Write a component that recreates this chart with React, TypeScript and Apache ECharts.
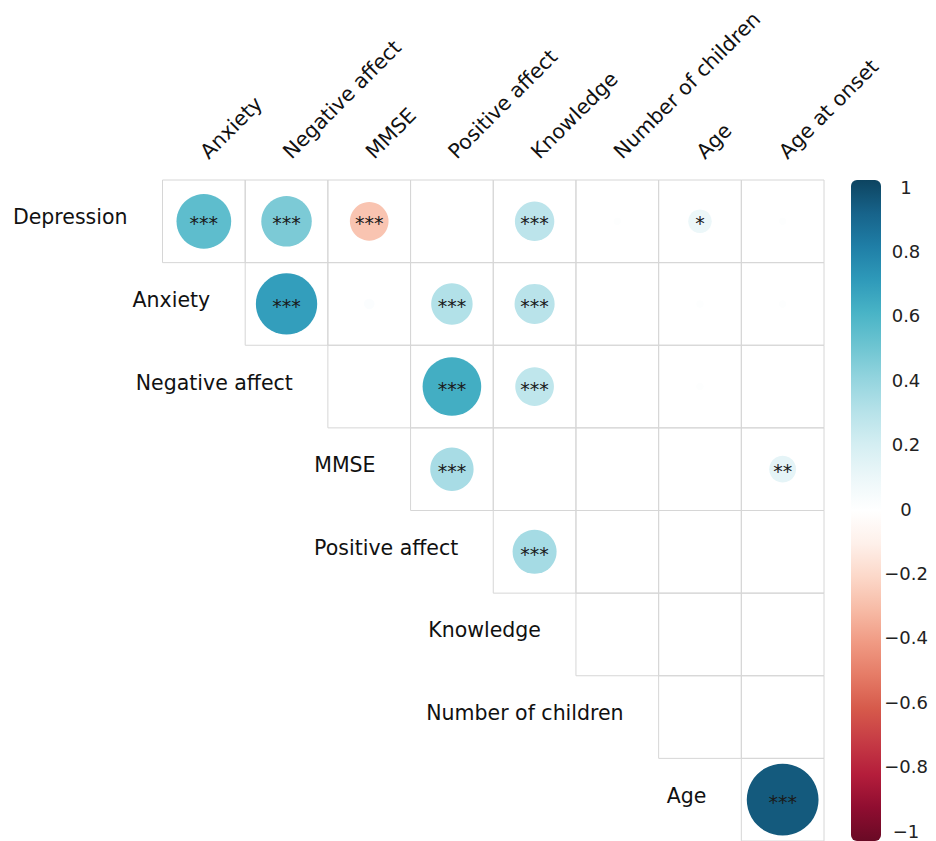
import { useEffect, useRef } from "react";
import * as echarts from "echarts";

const rowNames = [
  "Depression",
  "Anxiety",
  "Negative affect",
  "MMSE",
  "Positive affect",
  "Knowledge",
  "Number of children",
  "Age",
];
const colNames = [
  "Anxiety",
  "Negative affect",
  "MMSE",
  "Positive affect",
  "Knowledge",
  "Number of children",
  "Age",
  "Age at onset",
];
// correlation values (upper triangle, null = not drawn)
const corr: (number | null)[][] = [
  [0.54, 0.46, -0.27, 0.0, 0.28, 0.01, 0.1, 0.01],
  [null, 0.68, 0.02, 0.31, 0.29, 0.0, 0.01, 0.01],
  [null, null, 0.0, 0.62, 0.27, 0.0, 0.01, 0.0],
  [null, null, null, 0.34, 0.0, 0.0, 0.0, 0.13],
  [null, null, null, null, 0.35, 0.0, 0.0, 0.0],
  [null, null, null, null, null, 0.0, 0.0, 0.0],
  [null, null, null, null, null, null, 0.0, 0.0],
  [null, null, null, null, null, null, null, 0.93],
];
const sig: string[][] = [
  ["***", "***", "***", "", "***", "", "*", ""],
  ["", "***", "", "***", "***", "", "", ""],
  ["", "", "", "***", "***", "", "", ""],
  ["", "", "", "***", "", "", "", "**"],
  ["", "", "", "", "***", "", "", ""],
  ["", "", "", "", "", "", "", ""],
  ["", "", "", "", "", "", "", ""],
  ["", "", "", "", "", "", "", "***"],
];
// colour scale from -1 to 1
const colorStops = [
  "#690a25",
  "#8f0d30",
  "#b41d3b",
  "#c63b45",
  "#d65a4b",
  "#e57b66",
  "#f09a83",
  "#f7bba6",
  "#fcd8c9",
  "#fef0ea",
  "#ffffff",
  "#ecf7f9",
  "#d4eef2",
  "#b6e2e9",
  "#93d4de",
  "#6cc4d1",
  "#48b3c6",
  "#2e99b9",
  "#1f7ea6",
  "#17638a",
  "#0d4460",
];

const FONT = "DejaVu Sans";

export default function App() {
  const ref = useRef<HTMLDivElement>(null);
  useEffect(() => {
    const chart = echarts.init(ref.current!, null, { renderer: "svg" });
    const cellData: any[] = [];
    corr.forEach((row, i) =>
      row.forEach((v, j) => {
        if (v !== null) cellData.push([j, i, v, sig[i][j]]);
      })
    );
    const labelData = rowNames.map((n, i) => [i, i, n]);
    const n = colorStops.length - 1;
    const gradStops = colorStops
      .slice()
      .reverse()
      .map((c, k) => ({ offset: k / n, color: c }));

    chart.setOption({
      animation: false,
      visualMap: {
        show: false,
        type: "continuous",
        min: -1,
        max: 1,
        dimension: 2,
        seriesIndex: 1,
        inRange: { color: colorStops },
      },
      grid: [
        { left: 162.5, top: 180, width: 661.5, height: 661.5 },
        { left: 851, top: 187, width: 30, height: 644 },
      ],
      xAxis: [
        {
          type: "category",
          gridIndex: 0,
          data: colNames,
          position: "top",
          axisLine: { show: false },
          axisTick: { show: false },
          splitLine: { show: false },
          axisLabel: {
            rotate: -45,
            interval: 0,
            margin: 25,
            fontSize: 20.5,
            color: "#111",
            fontFamily: FONT,
          },
        },
        {
          type: "value",
          gridIndex: 1,
          min: 0,
          max: 1,
          show: false,
        },
      ],
      yAxis: [
        {
          type: "category",
          gridIndex: 0,
          data: rowNames,
          inverse: true,
          show: false,
        },
        {
          type: "value",
          gridIndex: 1,
          min: -1,
          max: 1,
          interval: 0.2,
          position: "right",
          axisLine: { show: false },
          axisTick: { show: false },
          splitLine: { show: false },
          axisLabel: {
            margin: 25,
            align: "center",
            fontSize: 18,
            color: "#222",
            fontFamily: FONT,
            formatter: (v: number) => {
              const r = Math.round(v * 10) / 10;
              return (r < 0 ? "\u2212" : "") + String(Math.abs(r));
            },
          },
        },
      ],
      series: [
        {
          type: "custom",
          xAxisIndex: 0,
          yAxisIndex: 0,
          data: cellData,
          renderItem: (params: any, api: any) => {
            const c = api.coord([api.value(0), api.value(1)]);
            const s = api.size([1, 1]);
            return {
              type: "rect",
              shape: { x: c[0] - s[0] / 2, y: c[1] - s[1] / 2, width: s[0], height: s[1] },
              style: { fill: "none", stroke: "#d6d6d6", lineWidth: 1 },
            };
          },
        },
        {
          type: "custom",
          xAxisIndex: 0,
          yAxisIndex: 0,
          data: cellData,
          renderItem: (params: any, api: any) => {
            const c = api.coord([api.value(0), api.value(1)]);
            const s = api.size([1, 1]);
            const v = api.value(2);
            const r = 0.45 * Math.sqrt(Math.abs(v)) * s[0];
            const stars = cellData[params.dataIndex][3];
            return {
              type: "group",
              children: [
                {
                  type: "circle",
                  shape: { cx: c[0], cy: c[1], r },
                  style: { fill: api.visual("color") },
                },
                {
                  type: "text",
                  x: c[0],
                  y: c[1] + 2,
                  style: {
                    text: stars,
                    fill: "#1a1a1a",
                    fontSize: 19,
                    fontFamily: FONT,
                    align: "center",
                    verticalAlign: "middle",
                  },
                },
              ],
            };
          },
        },
        {
          type: "custom",
          xAxisIndex: 0,
          yAxisIndex: 0,
          data: labelData,
          renderItem: (params: any, api: any) => {
            const c = api.coord([api.value(0), api.value(1)]);
            const s = api.size([1, 1]);
            return {
              type: "text",
              x: c[0] - s[0] / 2 - 35,
              y: c[1] - 4,
              style: {
                text: labelData[params.dataIndex][2],
                fill: "#111",
                fontSize: 20.5,
                fontFamily: FONT,
                align: "right",
                verticalAlign: "middle",
              },
            };
          },
        },
        {
          type: "custom",
          xAxisIndex: 1,
          yAxisIndex: 1,
          data: [[0, 1, 1]],
          renderItem: (params: any, api: any) => {
            const top = api.coord([0, 1]);
            const bot = api.coord([1, -1]);
            return {
              type: "rect",
              shape: {
                x: top[0],
                y: top[1] - 7,
                width: bot[0] - top[0],
                height: bot[1] - top[1] + 17,
                r: 6,
              },
              style: {
                fill: new echarts.graphic.LinearGradient(0, 0, 0, 1, gradStops),
              },
            };
          },
        },
      ],
    });
    return () => chart.dispose();
  }, []);
  return (
    <div
      ref={ref}
      style={{ position: "absolute", left: 0, top: 0, width: 936, height: 841 }}
    />
  );
}
